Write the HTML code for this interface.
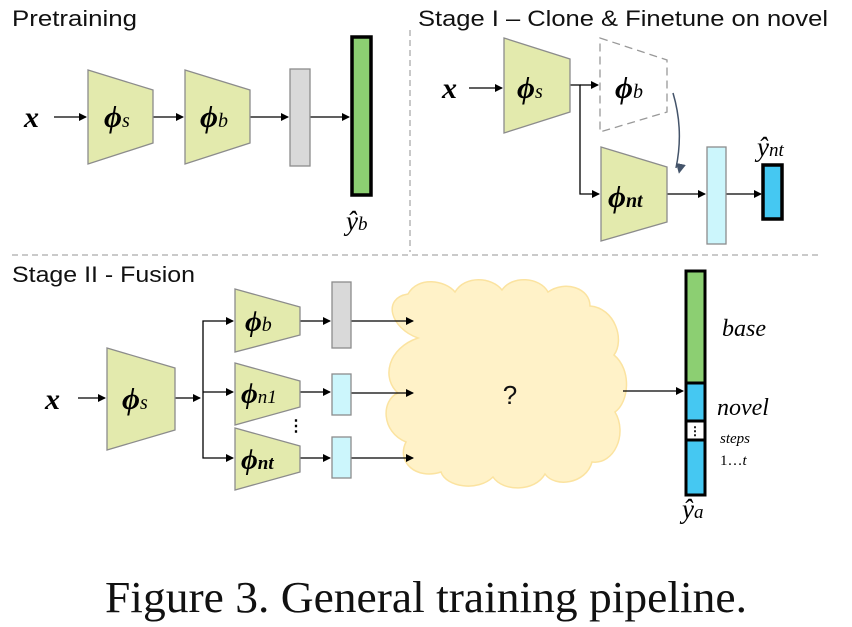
<!DOCTYPE html>
<html><head><meta charset="utf-8"><style>
html,body{margin:0;padding:0;background:#fff;}
svg{display:block}
.t{font-family:"Liberation Sans","DejaVu Sans",sans-serif;font-size:22px;fill:#111}
.m{font-family:"Liberation Serif","DejaVu Serif",serif;font-style:italic;fill:#000}
.b{font-weight:bold}
</style></head><body>
<svg width="852" height="627" viewBox="0 0 852 627" xmlns="http://www.w3.org/2000/svg">
<defs>
<marker id="a" markerWidth="8" markerHeight="8" refX="7" refY="4" orient="auto" markerUnits="userSpaceOnUse" viewBox="0 0 8 8"><path d="M0,0 L8,4 L0,8z" fill="#000"/></marker>
<marker id="a2" markerWidth="10" markerHeight="10" refX="5" refY="9" orient="auto" markerUnits="userSpaceOnUse" viewBox="0 0 10 10"><path d="M0,0 L10,0 L5,10z" fill="#44546a" transform="rotate(-90 5 5)"/></marker>
</defs>
<g stroke="#aaa" stroke-width="1.3" stroke-dasharray="6,4" fill="none">
<line x1="410" y1="30" x2="410" y2="252"/>
<line x1="12" y1="255" x2="822" y2="255"/>
</g>
<text class="t" x="12" y="26" textLength="125" lengthAdjust="spacingAndGlyphs">Pretraining</text>
<text class="t" x="418" y="26" textLength="410" lengthAdjust="spacingAndGlyphs">Stage I – Clone &amp; Finetune on novel</text>
<text class="t" x="12" y="282" textLength="183" lengthAdjust="spacingAndGlyphs">Stage II - Fusion</text>

<g fill="#fff2c8" stroke="#fbe3a0" stroke-width="1.5">
<path d="M418,338 C390,328 382,298 408,294 C418,276 445,280 455,292 C465,275 492,277 502,290 C512,275 540,277 548,292 C565,280 590,288 590,306 C615,308 625,340 614,355 C632,370 629,402 615,412 C628,434 614,465 592,462 C586,484 555,488 545,474 C535,492 503,492 493,477 C478,492 446,487 441,472 C416,480 396,462 406,442 C381,432 381,400 398,393 C381,378 388,348 418,338 Z"/>
</g>
<text x="510" y="404" font-family="Liberation Sans,sans-serif" font-size="26" text-anchor="middle" fill="#111">?</text>

<g stroke="#000" stroke-width="1.3" marker-end="url(#a)">
<line x1="54" y1="117" x2="86" y2="117"/>
<line x1="153" y1="117" x2="183" y2="117"/>
<line x1="250" y1="117" x2="288" y2="117"/>
<line x1="310" y1="117" x2="349" y2="117"/>
<line x1="469" y1="88" x2="502" y2="88"/>
<line x1="580" y1="85" x2="598" y2="85"/>
<polyline points="570,85 580,85 580,194 599,194" fill="none"/>
<line x1="667" y1="194" x2="705" y2="194"/>
<line x1="726" y1="194" x2="761" y2="194"/>
<line x1="78" y1="398" x2="105" y2="398"/>
<line x1="175" y1="398" x2="200" y2="398"/>
<polyline points="203,398 203,321 233,321" fill="none"/>
<line x1="203" y1="392" x2="233" y2="392"/>
<polyline points="203,398 203,458 233,458" fill="none"/>
<line x1="300" y1="321" x2="330" y2="321"/>
<line x1="300" y1="392" x2="330" y2="392"/>
<line x1="300" y1="458" x2="330" y2="458"/>
<line x1="351" y1="321" x2="413" y2="321"/>
<line x1="351" y1="393" x2="413" y2="393"/>
<line x1="351" y1="458" x2="413" y2="458"/>
<line x1="623" y1="391" x2="683" y2="391"/>
</g>
<path d="M673,93 Q684,130 676,168" stroke="#44546a" stroke-width="1.5" fill="none" marker-end="url(#a2)"/>

<g fill="#e3eaad" stroke="#8c8c8c" stroke-width="1.3">
<polygon points="88,70 153,90 153,143 88,164"/>
<polygon points="185,70 250,90 250,143 185,164"/>
<polygon points="504,38 570,59 570,112 504,133"/>
<polygon points="601,147 667,167 667,222 601,241"/>
<polygon points="107,348 175,368 175,430 107,450"/>
<polygon points="235,289 300,307 300,335 235,352"/>
<polygon points="235,363 300,381 300,407 235,425"/>
<polygon points="235,428 300,446 300,472 235,490"/>
</g>
<polygon points="600,38 667,60 667,112 600,132" fill="#fff" stroke="#999" stroke-width="1.3" stroke-dasharray="8,5"/>

<g stroke="#8c8c8c" stroke-width="1.3">
<rect x="290" y="69" width="20" height="97" fill="#d9d9d9"/>
<rect x="707" y="147" width="19" height="97" fill="#ccf6fc"/>
<rect x="332" y="282" width="19" height="66" fill="#d9d9d9"/>
<rect x="332" y="374" width="19" height="41" fill="#ccf6fc"/>
<rect x="332" y="437" width="19" height="41" fill="#ccf6fc"/>
</g>
<rect x="352" y="37" width="19" height="158" fill="#8ccf72" stroke="#000" stroke-width="3.5"/>
<rect x="763" y="165" width="19" height="54" fill="#45c8f2" stroke="#000" stroke-width="3.5"/>

<rect x="686" y="271" width="19" height="112" fill="#8ccf72" stroke="#000" stroke-width="3"/>
<rect x="686" y="383" width="19" height="38" fill="#45c8f2" stroke="#000" stroke-width="3"/>
<rect x="686" y="421" width="19" height="19" fill="#fff" stroke="#000" stroke-width="3"/>
<rect x="686" y="440" width="19" height="55" fill="#45c8f2" stroke="#000" stroke-width="3"/>
<text x="695" y="435" font-size="12" text-anchor="middle" font-family="Liberation Sans,sans-serif" class="b">⋮</text>
<text x="296" y="431" font-size="16" text-anchor="middle" font-family="Liberation Sans,sans-serif" class="b">⋮</text>

<g class="m b">
<text x="24" y="127" font-size="30">x</text>
<text x="104" y="127" font-size="31">ϕ<tspan font-size="20" font-weight="normal">s</tspan></text>
<text x="200" y="127" font-size="31">ϕ<tspan font-size="20" font-weight="normal">b</tspan></text>
<text x="442" y="98" font-size="30">x</text>
<text x="517" y="98" font-size="31">ϕ<tspan font-size="20" font-weight="normal">s</tspan></text>
<text x="615" y="98" font-size="31">ϕ<tspan font-size="20" font-weight="normal">b</tspan></text>
<text x="608" y="207" font-size="31">ϕ<tspan font-size="20">nt</tspan></text>
<text x="45" y="409" font-size="30">x</text>
<text x="122" y="409" font-size="31">ϕ<tspan font-size="20" font-weight="normal">s</tspan></text>
<text x="245" y="331" font-size="29">ϕ<tspan font-size="20" font-weight="normal">b</tspan></text>
<text x="241" y="403" font-size="29">ϕ<tspan font-size="19" font-weight="normal">n1</tspan></text>
<text x="241" y="469" font-size="29">ϕ<tspan font-size="19">nt</tspan></text>
</g>
<g class="m">
<text x="346" y="230" font-size="27">ŷ<tspan font-size="19">b</tspan></text>
<text x="757" y="156" font-size="27">ŷ<tspan font-size="19">nt</tspan></text>
<text x="682" y="518" font-size="27">ŷ<tspan font-size="19">a</tspan></text>
<text x="722" y="336" font-size="24">base</text>
<text x="717" y="415" font-size="24">novel</text>
<text x="720" y="443" font-size="15">steps</text>
<text x="720" y="465" font-size="15" font-style="normal">1…<tspan font-style="italic">t</tspan></text>
</g>
<text x="426" y="612" font-family="Liberation Serif,serif" font-size="44" text-anchor="middle" fill="#111" textLength="642" lengthAdjust="spacingAndGlyphs">Figure 3. General training pipeline.</text>
</svg>
</body></html>
